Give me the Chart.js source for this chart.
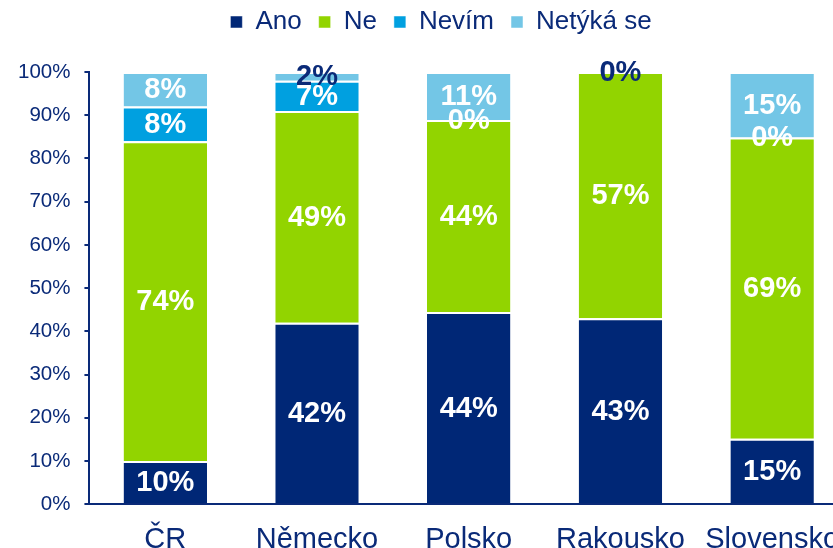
<!DOCTYPE html>
<html>
<head>
<meta charset="utf-8">
<script src="https://cdn.jsdelivr.net/npm/chart.js@4"></script>
<style>
  html, body { margin: 0; padding: 0; overflow: hidden; background: #fff; }
  #wrap { width: 860px; height: 575px; }
</style>
</head>
<body>
<div id="wrap"><canvas id="chart"></canvas></div>
<script>
// survey answers by country, stacked to 100 %
const countries = ['ČR', 'Německo', 'Polsko', 'Rakousko', 'Slovensko'];
const ano = [10, 42, 44, 43, 15];
const ne = [74, 49, 44, 57, 69];
const nevim = [8, 7, 0, 0, 0];
const netyka = [8, 2, 11, 0, 15];
const yTicks = [0, 10, 20, 30, 40, 50, 60, 70, 80, 90, 100];

const NAVY = '#0a2a78';
const FONT = '"Liberation Sans", Arial, sans-serif';

// label colour per segment, null = no label drawn
const labelColors = [
  ['#fff', '#fff', '#fff', '#fff', '#fff'],
  ['#fff', '#fff', '#fff', '#fff', '#fff'],
  ['#fff', '#fff', '#fff', null, '#fff'],
  ['#fff', NAVY, '#fff', NAVY, '#fff'],
];

// normalise each column so the stack fills 100 %
function toShares(series) {
  return series.map((v, i) => v / (ano[i] + ne[i] + nevim[i] + netyka[i]) * 100);
}

const rawSeries = [ano, ne, nevim, netyka];

const segmentLabels = {
  id: 'segmentLabels',
  afterDatasetsDraw(chart) {
    const ctx = chart.ctx;
    ctx.save();
    ctx.font = 'bold 29px ' + FONT;
    ctx.textAlign = 'center';
    ctx.textBaseline = 'middle';
    chart.data.datasets.forEach((ds, di) => {
      chart.getDatasetMeta(di).data.forEach((bar, i) => {
        const color = labelColors[di][i];
        if (!color) return;
        const c = bar.getCenterPoint();
        ctx.fillStyle = color;
        ctx.fillText(rawSeries[di][i] + '%', c.x, c.y + 1);
      });
    });
    ctx.restore();
  }
};

// extra room between legend and plot, legend nudged right
const legendGap = {
  id: 'legendGap',
  beforeInit(chart) {
    const fit = chart.legend.fit;
    chart.legend.fit = function () {
      fit.bind(chart.legend)();
      this.height += 27;
    };
  },
  afterLayout(chart) {
    chart.legend.left += 15;
    chart.legend.right += 15;
  }
};

const border = { top: 2, right: 0, bottom: 0, left: 0 };

new Chart(document.getElementById('chart'), {
  type: 'bar',
  data: {
    labels: countries,
    datasets: [
      { label: 'Ano', data: toShares(ano), backgroundColor: '#002776' },
      { label: 'Ne', data: toShares(ne), backgroundColor: '#92d400' },
      { label: 'Nevím', data: toShares(nevim), backgroundColor: '#00a0e0' },
      { label: 'Netýká se', data: toShares(netyka), backgroundColor: '#73c6e6' },
    ].map(ds => Object.assign(ds, {
      borderColor: '#fff',
      borderWidth: border,
      borderSkipped: false,
      barPercentage: 0.55,
      categoryPercentage: 1,
    })),
  },
  options: {
    responsive: true,
    maintainAspectRatio: false,
    animation: false,
    layout: { padding: { top: -8, right: 12, left: 4, bottom: 0 } },
    plugins: {
      legend: {
        position: 'top',
        labels: {
          color: NAVY,
          boxWidth: 12,
          boxHeight: 12,
          padding: 17,
          font: { size: 26, family: FONT },
        },
      },
      tooltip: { enabled: false },
    },
    scales: {
      x: {
        stacked: true,
        grid: { display: false, drawTicks: false },
        border: { display: true, color: NAVY, width: 2 },
        ticks: {
          color: NAVY,
          padding: 18,
          font: { size: 29, family: FONT },
        },
      },
      y: {
        stacked: true,
        min: 0,
        max: 100,
        afterBuildTicks: axis => { axis.ticks = yTicks.map(v => ({ value: v })); },
        grid: { drawOnChartArea: false, tickLength: 5, color: NAVY, lineWidth: 2 },
        border: { display: true, color: NAVY, width: 2 },
        ticks: {
          color: NAVY,
          padding: 14,
          callback: v => v + '%',
          font: { size: 20.5, family: FONT },
        },
      },
    },
  },
  plugins: [segmentLabels, legendGap],
});
</script>
</body>
</html>
